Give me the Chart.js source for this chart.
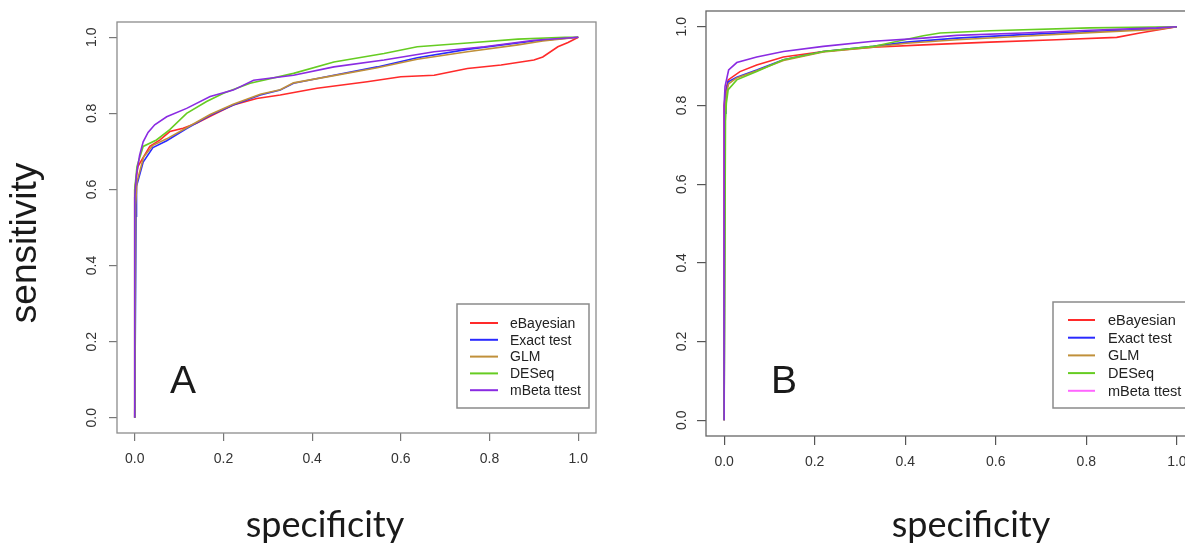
<!DOCTYPE html>
<html>
<head>
<meta charset="utf-8">
<script src="https://cdn.jsdelivr.net/npm/chart.js@4.4.0/dist/chart.umd.min.js"></script>
<style>
    body { margin: 0; width: 1185px; height: 551px; overflow: hidden; position: relative; background: #fff; }
    .panel { position: absolute; top: 0; width: 605px; height: 551px; }
    #panelA { left: 0; }
    #panelB { left: 605px; }
</style>
</head>
<body>
<div class="panel" id="panelA"><canvas id="chartA"></canvas></div>
<div class="panel" id="panelB"><canvas id="chartB"></canvas></div>
<script>
const methods = ['eBayesian', 'Exact test', 'GLM', 'DESeq', 'mBeta ttest'];
const lineColors = ['#ff2a2a', '#2a2aff', '#c0903a', '#66cc22', '#8a2be2'];
const legendColorsB = ['#ff2a2a', '#2a2aff', '#c0903a', '#66cc22', '#ff66ff'];
const axisTicks = [0, 0.2, 0.4, 0.6, 0.8, 1.0];

// panel A (x = specificity, y = sensitivity)
const aEbayesX = [0, 0, 0.007, 0.034, 0.057, 0.079, 0.109, 0.139, 0.177, 0.222, 0.275, 0.328, 0.411, 0.524, 0.6, 0.675, 0.75, 0.826, 0.9, 0.92, 0.954, 0.977, 1];
const aEbayesY = [0, 0.6, 0.66, 0.713, 0.73, 0.752, 0.761, 0.774, 0.796, 0.822, 0.839, 0.848, 0.866, 0.883, 0.896, 0.9, 0.918, 0.927, 0.94, 0.948, 0.975, 0.986, 1];
const aExactX = [0, 0.003, 0.004, 0.019, 0.041, 0.072, 0.117, 0.17, 0.222, 0.283, 0.328, 0.358, 0.449, 0.547, 0.637, 0.75, 0.864, 0.9, 1];
const aExactY = [0, 0.53, 0.608, 0.672, 0.71, 0.728, 0.76, 0.795, 0.822, 0.848, 0.861, 0.879, 0.9, 0.922, 0.946, 0.968, 0.985, 0.99, 1];
const aGlmX = [0, 0.002, 0.005, 0.02, 0.041, 0.072, 0.117, 0.17, 0.222, 0.283, 0.328, 0.358, 0.449, 0.547, 0.637, 0.75, 0.864, 0.92, 1];
const aGlmY = [0, 0.56, 0.62, 0.685, 0.716, 0.733, 0.762, 0.797, 0.824, 0.85, 0.862, 0.88, 0.899, 0.92, 0.942, 0.962, 0.98, 0.99, 1];
const aDeseqX = [0, 0, 0.005, 0.019, 0.049, 0.079, 0.117, 0.162, 0.2, 0.26, 0.358, 0.449, 0.562, 0.637, 0.75, 0.864, 0.97, 1];
const aDeseqY = [0, 0.6, 0.66, 0.713, 0.73, 0.757, 0.8, 0.831, 0.853, 0.879, 0.905, 0.935, 0.957, 0.975, 0.985, 0.995, 1, 1];
const aBetaX = [0, 0, 0.004, 0.011, 0.019, 0.03, 0.045, 0.072, 0.117, 0.17, 0.222, 0.268, 0.358, 0.449, 0.562, 0.675, 0.788, 0.9, 1];
const aBetaY = [0, 0.58, 0.64, 0.69, 0.725, 0.75, 0.77, 0.791, 0.813, 0.844, 0.861, 0.887, 0.9, 0.922, 0.94, 0.962, 0.975, 0.992, 1];

// panel B
const bEbayesX = [0, 0, 0.004, 0.009, 0.035, 0.072, 0.131, 0.219, 0.329, 0.44, 0.587, 0.734, 0.867, 0.918, 1];
const bEbayesY = [0, 0.8, 0.84, 0.865, 0.886, 0.903, 0.923, 0.937, 0.948, 0.954, 0.961, 0.967, 0.973, 0.984, 1];
const bExactX = [0, 0.002, 0.004, 0.009, 0.028, 0.072, 0.131, 0.219, 0.329, 0.403, 0.514, 0.66, 0.808, 0.955, 1];
const bExactY = [0, 0.78, 0.83, 0.86, 0.872, 0.89, 0.916, 0.937, 0.95, 0.961, 0.971, 0.98, 0.988, 0.995, 1];
const bGlmX = [0, 0.002, 0.005, 0.01, 0.028, 0.072, 0.131, 0.219, 0.329, 0.403, 0.514, 0.66, 0.808, 0.955, 1];
const bGlmY = [0, 0.78, 0.83, 0.855, 0.87, 0.888, 0.914, 0.936, 0.948, 0.958, 0.967, 0.976, 0.985, 0.993, 1];
const bDeseqX = [0, 0.003, 0.005, 0.009, 0.028, 0.072, 0.131, 0.219, 0.329, 0.44, 0.477, 0.587, 0.808, 1];
const bDeseqY = [0, 0.76, 0.806, 0.84, 0.865, 0.886, 0.916, 0.937, 0.95, 0.977, 0.984, 0.99, 0.997, 1];
const bBetaX = [0, 0, 0.002, 0.01, 0.028, 0.072, 0.131, 0.219, 0.329, 0.44, 0.514, 0.66, 0.808, 0.955, 1];
const bBetaY = [0, 0.8, 0.848, 0.89, 0.909, 0.923, 0.937, 0.95, 0.963, 0.971, 0.978, 0.984, 0.991, 0.997, 1];

const tickFont = { family: '"Liberation Sans", Arial, sans-serif', size: 14 };

function toPoints(xs, ys) {
    return xs.map((x, i) => ({ x: x, y: ys[i] }));
}

// box round the plot, R style legend and the free labels
const rocDecor = {
    id: 'rocDecor',
    afterDraw(chart, args, opts) {
        const ctx = chart.ctx;
        const area = chart.chartArea;
        ctx.save();
        ctx.strokeStyle = opts.frameColor;
        ctx.lineWidth = 1.3;
        ctx.strokeRect(area.left, area.top, area.right - area.left, area.bottom - area.top);

        const lg = opts.legend;
        ctx.fillStyle = '#fff';
        ctx.fillRect(lg.left, lg.top, lg.right - lg.left, lg.bottom - lg.top);
        ctx.strokeStyle = '#8a8a8a';
        ctx.lineWidth = 1.5;
        ctx.strokeRect(lg.left, lg.top, lg.right - lg.left, lg.bottom - lg.top);
        ctx.font = lg.fontSize + 'px "Liberation Sans", Arial, sans-serif';
        ctx.textBaseline = 'middle';
        ctx.textAlign = 'left';
        methods.forEach((name, i) => {
            const y = lg.firstRow + i * lg.rowGap;
            ctx.strokeStyle = lg.colors[i];
            ctx.lineWidth = 2;
            ctx.beginPath();
            ctx.moveTo(lg.lineStart, y);
            ctx.lineTo(lg.lineEnd, y);
            ctx.stroke();
            ctx.fillStyle = '#222';
            ctx.fillText(name, lg.textX, y + 1);
        });

        ctx.fillStyle = '#1a1a1a';
        ctx.textBaseline = 'alphabetic';
        opts.labels.forEach(lb => {
            ctx.save();
            ctx.font = lb.font;
            ctx.textAlign = lb.align;
            ctx.translate(lb.x, lb.y);
            if (lb.rotate) ctx.rotate(-Math.PI / 2);
            ctx.fillText(lb.text, 0, 0);
            ctx.restore();
        });
        ctx.restore();
    }
};

function makeChart(canvasId, series, cfg) {
    const datasets = series.map((s, i) => ({
        label: methods[i],
        data: toPoints(s[0], s[1]),
        borderColor: lineColors[i],
        borderWidth: 1.6,
        pointRadius: 0,
        showLine: true,
        fill: false,
        tension: 0,
        order: series.length - i,
    }));

    const gridStyle = {
        display: true,
        drawOnChartArea: false,
        drawTicks: true,
        tickLength: cfg.tickLength,
        color: cfg.tickColor,
        lineWidth: 1.2,
    };

    return new Chart(document.getElementById(canvasId), {
        type: 'scatter',
        data: { datasets: datasets },
        options: {
            responsive: true,
            maintainAspectRatio: false,
            animation: false,
            layout: { padding: { left: 0, top: cfg.top, right: cfg.right, bottom: 0 } },
            plugins: {
                legend: { display: false },
                tooltip: { enabled: false },
                rocDecor: { frameColor: cfg.frameColor, legend: cfg.legend, labels: cfg.labels },
            },
            scales: {
                x: {
                    type: 'linear',
                    min: -0.04,
                    max: 1.04,
                    afterBuildTicks: axis => { axis.ticks = axisTicks.map(v => ({ value: v })); },
                    afterFit: axis => {
                        axis.height = cfg.xAxisHeight;
                        axis.paddingLeft = 0;
                        axis.paddingRight = 0;
                    },
                    grid: gridStyle,
                    border: { display: false },
                    ticks: {
                        font: tickFont,
                        color: '#333',
                        padding: cfg.xLabelPad,
                        autoSkip: false,
                        minRotation: 0,
                        maxRotation: 0,
                        callback: v => Number(v).toFixed(1),
                    },
                },
                y: {
                    type: 'linear',
                    min: -0.04,
                    max: 1.04,
                    afterBuildTicks: axis => { axis.ticks = axisTicks.map(v => ({ value: v })); },
                    afterFit: axis => {
                        axis.width = cfg.yAxisWidth;
                        axis.paddingTop = 0;
                        axis.paddingBottom = 0;
                    },
                    grid: gridStyle,
                    border: { display: false },
                    ticks: {
                        font: tickFont,
                        color: '#333',
                        padding: cfg.yLabelPad,
                        autoSkip: false,
                        minRotation: 90,
                        maxRotation: 90,
                        crossAlign: 'center',
                        callback: v => Number(v).toFixed(1),
                    },
                },
            },
        },
        plugins: [rocDecor],
    });
}

const bigFont = '36px Lato, "Open Sans", sans-serif';
const letterFont = '39px "Liberation Sans", Arial, sans-serif';

makeChart('chartA', [
    [aEbayesX, aEbayesY], [aExactX, aExactY], [aGlmX, aGlmY], [aDeseqX, aDeseqY], [aBetaX, aBetaY],
], {
    top: 22, right: 9, yAxisWidth: 117, xAxisHeight: 118,
    tickLength: 8, xLabelPad: 10, yLabelPad: 7,
    tickColor: '#777', frameColor: '#8c8c8c',
    legend: {
        left: 457, right: 589, top: 304, bottom: 408,
        firstRow: 323, rowGap: 16.8, lineStart: 470, lineEnd: 498, textX: 510,
        fontSize: 14, colors: lineColors,
    },
    labels: [
        { text: 'sensitivity', x: 36, y: 243, font: '37px "Liberation Sans", Arial, sans-serif', align: 'center', rotate: true },
        { text: 'specificity', x: 325, y: 537, font: bigFont, align: 'center' },
        { text: 'A', x: 170, y: 393, font: letterFont, align: 'left' },
    ],
});

makeChart('chartB', [
    [bEbayesX, bEbayesY], [bExactX, bExactY], [bGlmX, bGlmY], [bDeseqX, bDeseqY], [bBetaX, bBetaY],
], {
    top: 11, right: 15, yAxisWidth: 101, xAxisHeight: 115,
    tickLength: 9, xLabelPad: 9, yLabelPad: 5,
    tickColor: '#555', frameColor: '#666',
    legend: {
        left: 448, right: 640, top: 302, bottom: 408,
        firstRow: 320, rowGap: 17.7, lineStart: 463, lineEnd: 490, textX: 503,
        fontSize: 14.5, colors: legendColorsB,
    },
    labels: [
        { text: 'specificity', x: 366, y: 537, font: bigFont, align: 'center' },
        { text: 'B', x: 166, y: 393, font: letterFont, align: 'left' },
    ],
});
</script>
</body>
</html>
